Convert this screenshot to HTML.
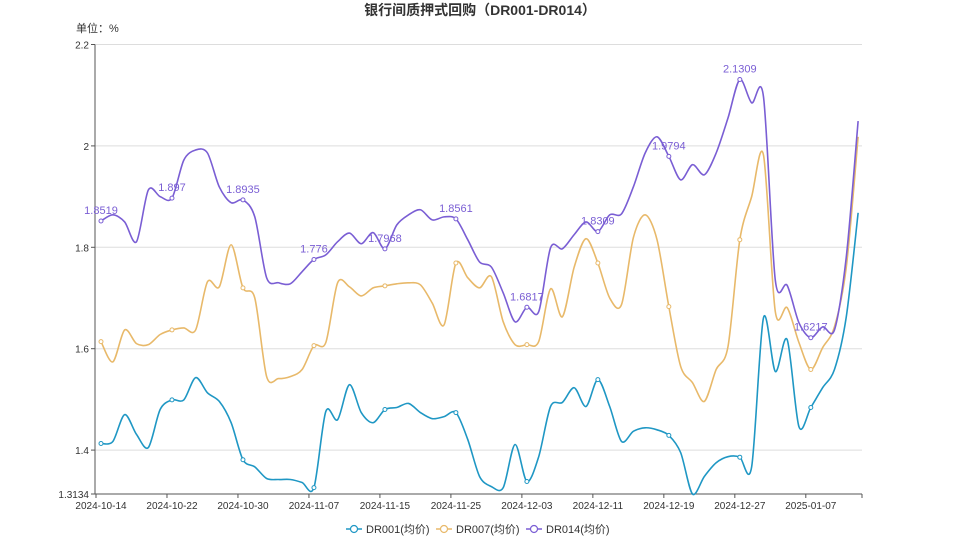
<!DOCTYPE html>
<html><head><meta charset="utf-8">
<style>
html,body{margin:0;padding:0;background:#fff;}
svg{display:block;font-family:"Liberation Sans","Noto Sans CJK SC",sans-serif;}
</style></head>
<body>
<svg id="chart" width="959" height="539" viewBox="0 0 959 539" xmlns="http://www.w3.org/2000/svg">
<text x="480" y="15" text-anchor="middle" font-size="14" font-weight="bold" fill="#333">银行间质押式回购（DR001-DR014）</text>
<text x="76" y="32" font-size="11" fill="#333">单位：%</text>
<g id="grid"></g>
<g id="series"></g>
<g id="legend"></g>
</svg>
<script>
const dates = ["2024-10-14","2024-10-15","2024-10-16","2024-10-17","2024-10-18","2024-10-21","2024-10-22","2024-10-23","2024-10-24","2024-10-25","2024-10-28","2024-10-29","2024-10-30","2024-10-31","2024-11-01","2024-11-04","2024-11-05","2024-11-06","2024-11-07","2024-11-08","2024-11-11","2024-11-12","2024-11-13","2024-11-14","2024-11-15","2024-11-18","2024-11-19","2024-11-20","2024-11-21","2024-11-22","2024-11-25","2024-11-26","2024-11-27","2024-11-28","2024-11-29","2024-12-02","2024-12-03","2024-12-04","2024-12-05","2024-12-06","2024-12-09","2024-12-10","2024-12-11","2024-12-12","2024-12-13","2024-12-16","2024-12-17","2024-12-18","2024-12-19","2024-12-20","2024-12-23","2024-12-24","2024-12-25","2024-12-26","2024-12-27","2024-12-30","2024-12-31","2025-01-02","2025-01-03","2025-01-06","2025-01-07","2025-01-08","2025-01-09","2025-01-10","2025-01-13"];
const dr001 = [1.413,1.417,1.47,1.431,1.405,1.48,1.499,1.499,1.543,1.513,1.496,1.454,1.381,1.367,1.344,1.342,1.342,1.336,1.326,1.476,1.46,1.529,1.474,1.454,1.48,1.484,1.492,1.474,1.462,1.466,1.474,1.421,1.348,1.328,1.326,1.411,1.338,1.387,1.486,1.494,1.523,1.486,1.539,1.486,1.417,1.437,1.444,1.44,1.429,1.395,1.3134,1.348,1.375,1.387,1.386,1.367,1.661,1.555,1.618,1.446,1.484,1.523,1.559,1.663,1.868];
const dr007 = [1.614,1.574,1.637,1.61,1.608,1.628,1.637,1.641,1.637,1.732,1.722,1.805,1.72,1.70,1.545,1.541,1.545,1.559,1.606,1.612,1.73,1.722,1.704,1.72,1.724,1.728,1.73,1.726,1.69,1.647,1.769,1.74,1.72,1.742,1.653,1.608,1.608,1.614,1.718,1.663,1.761,1.817,1.769,1.70,1.687,1.819,1.864,1.815,1.683,1.565,1.533,1.496,1.559,1.604,1.815,1.90,1.982,1.673,1.681,1.612,1.559,1.602,1.643,1.761,2.018];
const dr014 = [1.8519,1.864,1.85,1.811,1.913,1.90,1.897,1.972,1.992,1.986,1.919,1.888,1.8935,1.86,1.74,1.73,1.728,1.752,1.776,1.785,1.811,1.828,1.807,1.829,1.7968,1.844,1.864,1.874,1.854,1.86,1.8561,1.815,1.771,1.761,1.71,1.653,1.6817,1.673,1.799,1.797,1.825,1.85,1.8309,1.864,1.866,1.919,1.986,2.018,1.9794,1.933,1.963,1.943,1.986,2.055,2.1309,2.085,2.097,1.735,1.725,1.651,1.6217,1.643,1.637,1.781,2.049];
const yTicks = [2.2,2,1.8,1.6,1.4,1.3134];
const xLabelIdx = [0,6,12,18,24,30,36,42,48,54,60];
const seriesNames = ["DR001(均价)","DR007(均价)","DR014(均价)"];

const NS="http://www.w3.org/2000/svg";
const X0=101, DX=11.83, AX0=95, AX1=862;
const YMIN=1.3134, YMAX=2.2, YT=44.5, YB=494;
function xs(i){return X0+DX*i;}
function ys(v){return YB-(v-YMIN)/(YMAX-YMIN)*(YB-YT);}
function mk(tag,attrs,parent){const e=document.createElementNS(NS,tag);for(const k in attrs)e.setAttribute(k,attrs[k]);parent.appendChild(e);return e;}

const grid=document.getElementById('grid');
yTicks.forEach(function(t){
  const y=ys(t);
  if(t!==YMIN){
    const l=mk('line',{x1:AX0,x2:AX1,y1:y,y2:y,stroke:'#ddd','stroke-width':1},grid);
    
    
  }
  const tk=mk('line',{x1:AX0-4,x2:AX0,y1:y,y2:y,stroke:'#555','stroke-width':1},grid);
  
  
  const tx=mk('text',{x:AX0-6,y:y+4,'text-anchor':'end','font-size':10,fill:'#333'},grid);
  tx.textContent=String(t);
  
  
});
const ya=mk('line',{x1:AX0,x2:AX0,y1:YT,y2:YB,stroke:'#555','stroke-width':1},grid);


const xa=mk('line',{x1:AX0,x2:AX1,y1:YB,y2:YB,stroke:'#555','stroke-width':1},grid);


xLabelIdx.forEach(function(i){
  const tk=mk('line',{x1:xs(i)-5,x2:xs(i)-5,y1:YB,y2:YB+4,stroke:'#555'},grid);
  
  
  const tx=mk('text',{x:xs(i),y:YB+15,'text-anchor':'middle','font-size':10,fill:'#333'},grid);
  tx.textContent=dates[i];
  
  
});
const endTick=mk('line',{x1:AX1,x2:AX1,y1:YB,y2:YB+4,stroke:'#555'},grid);



function smoothPath(vals){
  const p=vals.map(function(v,i){return [xs(i),ys(v)];});
  let d='M'+p[0][0]+','+p[0][1];
  const t=0.3;
  for(let i=0;i<p.length-1;i++){
    const p0=p[Math.max(0,i-1)],p1=p[i],p2=p[i+1],p3=p[Math.min(p.length-1,i+2)];
    const c1x=p1[0]+(p2[0]-p0[0])*t/2, c1y=p1[1]+(p2[1]-p0[1])*t/2;
    const c2x=p2[0]-(p3[0]-p1[0])*t/2, c2y=p2[1]-(p3[1]-p1[1])*t/2;
    d+=' C'+c1x+','+c1y+' '+c2x+','+c2y+' '+p2[0]+','+p2[1];
  }
  return d;
}
const colors=['#1f97c4','#e8b96a','#7a5ed4'];
const allSeries=[dr001,dr007,dr014];
const sg=document.getElementById('series');
allSeries.forEach(function(vals,si){
  const path=mk('path',{d:smoothPath(vals),fill:'none',stroke:colors[si],'stroke-width':1.6},sg);
  
  
  xLabelIdx.forEach(function(i){
    const c=mk('circle',{cx:xs(i),cy:ys(vals[i]),r:2,fill:'#fff',stroke:colors[si],'stroke-width':1},sg);
    
    
  });
});
xLabelIdx.forEach(function(i){
  const tx=mk('text',{x:xs(i),y:ys(dr014[i])-7,'text-anchor':'middle','font-size':11,fill:'#7a5ed4'},sg);
  tx.textContent=String(dr014[i]);
  
  
});

const lg=document.getElementById('legend');
const lx=[346,436,526];
seriesNames.forEach(function(n,si){
  const g=mk('g',{},lg);
  
  
  mk('line',{x1:lx[si],x2:lx[si]+16,y1:529,y2:529,stroke:colors[si],'stroke-width':1.5},g);
  mk('circle',{cx:lx[si]+8,cy:529,r:3.5,fill:'#fff',stroke:colors[si],'stroke-width':1.2},g);
  const tx=mk('text',{x:lx[si]+20,y:533,'font-size':11,fill:'#333'},g);
  tx.textContent=n;
});
</script>
</body></html>
